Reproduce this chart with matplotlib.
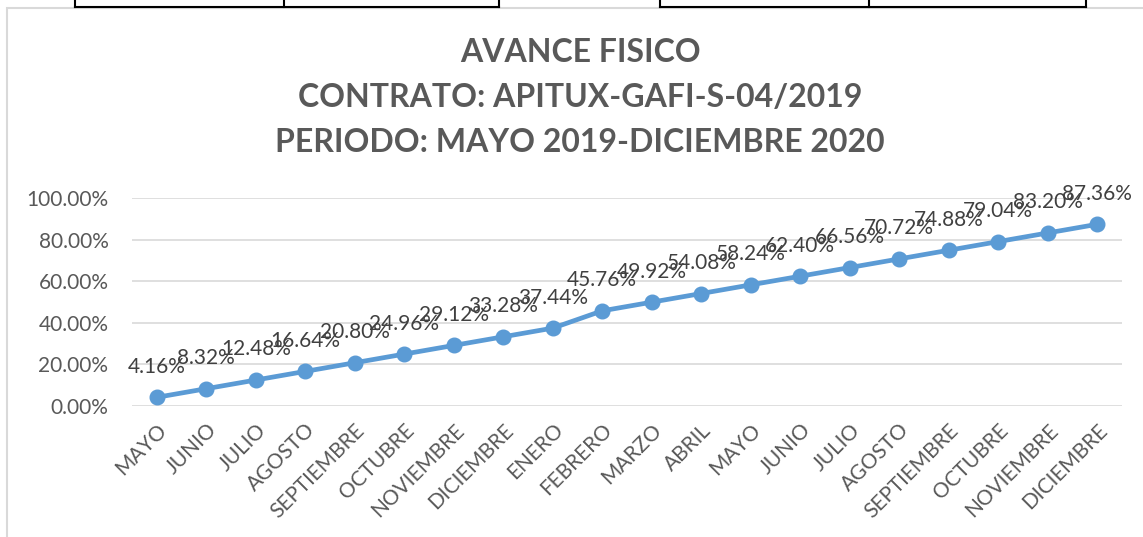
import matplotlib
matplotlib.use("Agg")
import matplotlib.pyplot as plt
from matplotlib.patches import Rectangle
from matplotlib.lines import Line2D
from matplotlib.ticker import FuncFormatter

months = ["MAYO", "JUNIO", "JULIO", "AGOSTO", "SEPTIEMBRE", "OCTUBRE", "NOVIEMBRE",
          "DICIEMBRE", "ENERO", "FEBRERO", "MARZO", "ABRIL", "MAYO", "JUNIO", "JULIO",
          "AGOSTO", "SEPTIEMBRE", "OCTUBRE", "NOVIEMBRE", "DICIEMBRE"]
avance = [0.0416, 0.0832, 0.1248, 0.1664, 0.2080, 0.2496, 0.2912, 0.3328, 0.3744,
          0.4576, 0.4992, 0.5408, 0.5824, 0.6240, 0.6656, 0.7072, 0.7488, 0.7904,
          0.8320, 0.8736]
title_lines = ["AVANCE FISICO", "CONTRATO: APITUX-GAFI-S-04/2019",
               "PERIODO: MAYO 2019-DICIEMBRE 2020"]

W, H = 1143, 537
fig = plt.figure(figsize=(W / 100, H / 100), dpi=100)
plt.rcParams['font.family'] = ['Lato', 'DejaVu Sans']

# chart frame
fig.patches.append(Rectangle((7 / W, -0.1), 1.2, 1 - 8 / H + 0.1, transform=fig.transFigure,
                             fill=False, edgecolor='#d9d9d9', linewidth=1.5))
# table fragment at the top
for x0, x1 in [(75, 499), (660, 1086)]:
    fig.lines.append(Line2D([x0 / W, x1 / W], [1 - 7 / H, 1 - 7 / H], transform=fig.transFigure,
                            color='black', linewidth=1.5))
for xv in [75, 284, 499, 660, 869, 1086]:
    fig.lines.append(Line2D([xv / W, xv / W], [1 - 7 / H, 1.0], transform=fig.transFigure,
                            color='black', linewidth=1.5))

left, right, top, bottom = 132, 1122, 198, 406
ax = fig.add_axes([left / W, 1 - bottom / H, (right - left) / W, (bottom - top) / H])
x = list(range(len(months)))
ax.plot(x, avance, color='#5B9BD5', linewidth=3.4, marker='o', markersize=10.5,
        solid_capstyle='round', zorder=3, clip_on=False)
for xi, v in zip(x, avance):
    ax.annotate(f"{v * 100:.2f}%", (xi, v), xytext=(0, 22), textcoords='offset points',
                ha='center', va='center', fontsize=15, color='#404040', zorder=4)

ax.set_xlim(-0.5, len(months) - 0.5)
ax.set_ylim(0, 1.0)
ax.set_yticks([0, 0.2, 0.4, 0.6, 0.8, 1.0])
ax.yaxis.set_major_formatter(FuncFormatter(lambda v, p: f"{v * 100:.2f}%"))
ax.grid(axis='y', color='#d9d9d9', linewidth=1.2)
ax.set_axisbelow(True)
for s in ax.spines.values():
    s.set_visible(False)
ax.tick_params(axis='both', length=0, colors='#595959', labelsize=15)
ax.tick_params(axis='y', pad=17)
ax.set_xticks(x)
ax.set_xticklabels(months, rotation=45, ha='right', rotation_mode='anchor')
ax.tick_params(axis='x', pad=10)

for i, t in enumerate(title_lines):
    fig.text(580 / W, 1 - (52 + 45.5 * i) / H, t, ha='center', va='center',
             fontsize=23, fontweight='bold', color='#595959')

fig.savefig("out.png", dpi=100)
